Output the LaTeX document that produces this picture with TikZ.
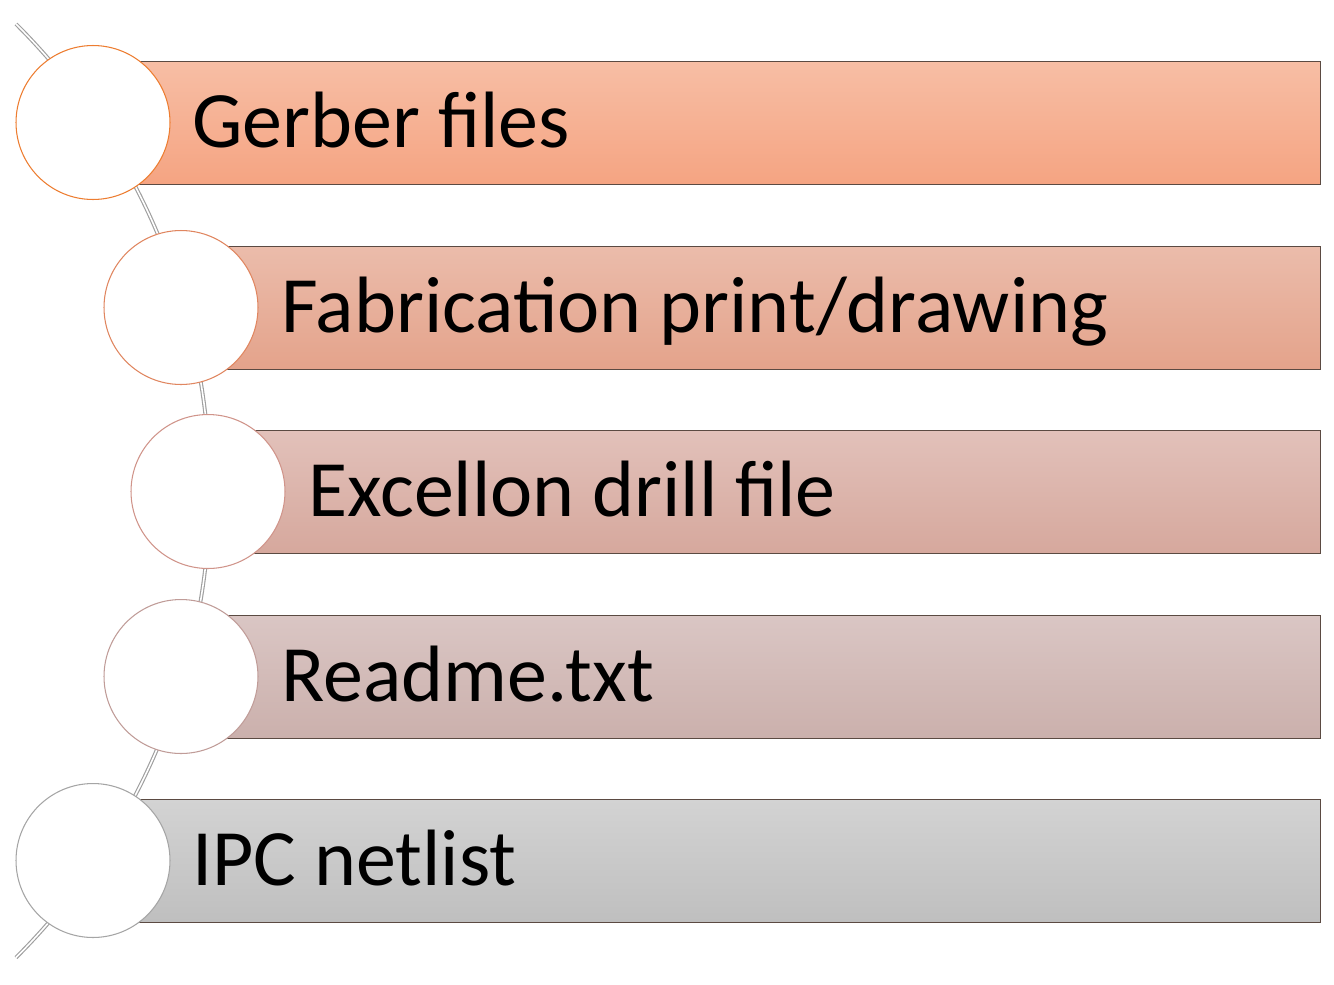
\documentclass[tikz,border=0pt]{standalone}
\usepackage{fontspec}
\setmainfont{Carlito}
\usepackage{tikz}
\usetikzlibrary{positioning, calc}
\usepackage{xcolor}

\definecolor{edge}{HTML}{5B4A42}
\definecolor{rimA}{HTML}{ED7D31}
\definecolor{rimB}{HTML}{E08660}
\definecolor{rimC}{HTML}{D0948A}
\definecolor{rimD}{HTML}{C09C98}
\definecolor{rimE}{HTML}{A5A5A5}

\begin{document}
\begin{tikzpicture}[x=0.02cm, y=-0.02cm,
    bar/.style={rectangle, anchor=west, draw=edge, line width=0.5pt, minimum height=2.46cm, inner sep=0pt},
    disc/.style={circle, fill=white, line width=0.6pt, minimum size=3.08cm, inner sep=0pt},
    label/.style={anchor=base west, inner sep=0pt, font=\fontsize{45.5}{50}\selectfont},
    rail/.style={draw=gray!75, double=white, line width=0.65pt, double distance=0.9pt}]
      \useasboundingbox (0, 0) rectangle (1334, 984);

      % the bent line behind the discs
      \coordinate (top) at (16, 24);
      \draw[rail] (top) arc[start angle=-45.1, end angle=45.1, radius=659];

      \node[bar, minimum width=24.54cm, top color={rgb,255:red,247;green,190;blue,165}, bottom color={rgb,255:red,245;green,164;blue,130}] (b1) at (93, 122.5) {};
      \node[bar, minimum width=22.78cm, top color={rgb,255:red,235;green,188;blue,171}, bottom color={rgb,255:red,228;green,163;blue,139}] (b2) at (181, 307.5) {};
      \node[bar, minimum width=22.24cm, top color={rgb,255:red,226;green,193;blue,186}, bottom color={rgb,255:red,214;green,168;blue,157}] (b3) at (208, 491.5) {};
      \node[bar, minimum width=22.78cm, top color={rgb,255:red,218;green,198;blue,196}, bottom color={rgb,255:red,203;green,176;blue,172}] (b4) at (181, 676.5) {};
      \node[bar, minimum width=24.54cm, top color={rgb,255:red,211;green,211;blue,211}, bottom color={rgb,255:red,191;green,191;blue,191}] (b5) at (93, 860.5) {};

      \node[disc, draw=rimA] (c1) at (b1.west) {};
      \node[disc, draw=rimB] (c2) at (b2.west) {};
      \node[disc, draw=rimC] (c3) at (b3.west) {};
      \node[disc, draw=rimD] (c4) at (b4.west) {};
      \node[disc, draw=rimE] (c5) at (b5.west) {};

      \node[label] (t1) at (192, 147) {Gerber files};
      \node[label] (t2) at (281, 332) {Fabrication print/drawing};
      \node[label] (t3) at (308, 516) {Excellon drill file};
      \node[label] (t4) at (281, 701) {Readme.txt};
      \node[label] (t5) at (192, 885) {IPC netlist};

    \end{tikzpicture}
\end{document}
